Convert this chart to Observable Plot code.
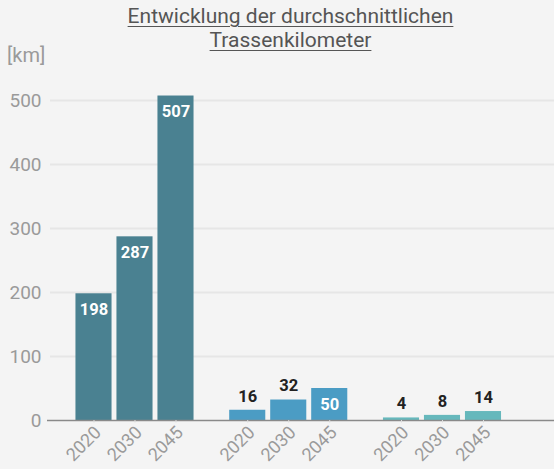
<!DOCTYPE html>
<html>
<head>
<meta charset="utf-8">
<script src="https://cdn.jsdelivr.net/npm/d3@7"></script>
<script src="https://cdn.jsdelivr.net/npm/@observablehq/plot@0.6"></script>
<style>
  html, body { margin: 0; padding: 0; background: #f4f4f4; }
  #wrap { position: relative; width: 554px; height: 469px; font-family: Roboto, "Open Sans", sans-serif; }
  #title { position: absolute; top: 4px; left: 0; width: 581px; text-align: center; font-size: 21px; line-height: 24px; color: #555; text-decoration: underline; text-decoration-thickness: 1px; text-underline-offset: 3px; }
  #unit { position: absolute; top: 43px; left: 7px; font-size: 20px; color: #9a9a9a; }
  svg { display: block; }
</style>
</head>
<body>
<div id="wrap">
  <div id="chart"></div>
  <div id="title">Entwicklung der durchschnittlichen<br>Trassenkilometer</div>
  <div id="unit">[km]</div>
</div>
<script>
const years = ["2020", "2030", "2045"];
const groupA = [198, 287, 507];
const groupB = [16, 32, 50];
const groupC = [4, 8, 14];
const groupColors = ["#4a8191", "#4b9cc4", "#66b8bc"];
const yTicks = [0, 100, 200, 300, 400, 500];

const groups = [groupA, groupB, groupC];
const bars = [];
groups.forEach((vals, g) => {
  vals.forEach((v, i) => {
    bars.push({group: g, year: years[i], value: v, pos: g * 3.75 + i, color: groupColors[g]});
  });
});
const half = 0.44;

const chart = Plot.plot({
  width: 554,
  height: 469,
  marginLeft: 47,
  marginRight: 0,
  marginTop: 100,
  marginBottom: 49,
  style: {background: "#f4f4f4", fontFamily: "Roboto, sans-serif", overflow: "visible"},
  x: {type: "linear", domain: [-1.134, 11.232], axis: null},
  y: {domain: [0, 500], axis: null},
  marks: [
    Plot.ruleY(yTicks.filter(d => d > 0), {x1: -1.06, x2: 11.232, stroke: "#e6e6e6", strokeWidth: 2}),
    Plot.text(yTicks, {y: d => d, text: d => String(d), frameAnchor: "left", textAnchor: "end", dx: -6, fill: "#9a9a9a", fontSize: 19}),
    Plot.rectY(bars, {x1: d => d.pos - half, x2: d => d.pos + half, y1: 0, y2: "value", fill: "color"}),
    Plot.ruleY([0], {stroke: "#8a8a8a", strokeWidth: 1.5}),
    Plot.ruleX(bars, {x: "pos", y1: 0, y2: -4, stroke: "#dddddd"}),
    Plot.text(bars, {x: "pos", y: 0, text: "year", rotate: -45, textAnchor: "end", dx: 4, dy: 9, fill: "#9a9a9a", fontSize: 18}),
    Plot.text(bars.filter(d => d.value >= 50), {x: "pos", y: "value", text: d => String(d.value), dy: 16, fill: "white", fontWeight: "bold", fontSize: 16.5}),
    Plot.text(bars.filter(d => d.value < 50), {x: "pos", y: "value", text: d => String(d.value), dy: -14, fill: "#222", fontWeight: "bold", fontSize: 16.5})
  ]
});
document.getElementById("chart").appendChild(chart);
</script>
</body>
</html>
